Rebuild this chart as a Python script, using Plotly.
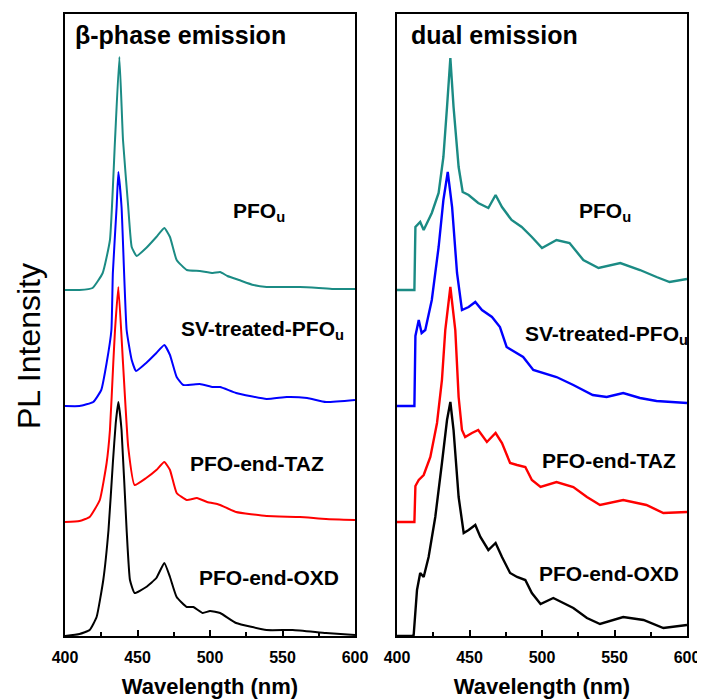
import plotly.graph_objects as go

# ---------------- data (wavelength nm, PL intensity offset units) ----------------
# Left panel: beta-phase emission
beta_pfou_x = [400, 410, 419, 426, 431, 434.5, 437.5, 440, 443.6, 446, 449.4, 456, 463, 468.5, 472.4, 477, 484, 493, 502, 507, 512, 520, 530, 539, 550, 562, 575, 585, 600]
beta_pfou_y = [346, 346, 348, 363, 396, 496, 579, 496, 429, 389, 380, 388, 399, 408, 399, 376, 366, 365, 363, 364, 360, 356, 351, 349, 349, 349, 348, 347, 347]

beta_sv_x = [400, 410, 419.5, 425, 428.7, 432, 433, 435.6, 436.8, 439, 442.5, 446, 449, 456, 463, 468.5, 472.4, 477, 481.6, 493, 502, 507, 518, 539, 553, 567, 580, 600]
beta_sv_y = [230, 230, 234, 246, 273, 306, 363, 429, 464, 429, 306, 276, 265, 273, 283, 291, 281, 259, 251, 252, 249, 249, 243, 237, 239, 238, 234, 236]

beta_taz_x = [400, 410, 417, 424, 428.7, 431, 433.3, 434.5, 436.8, 440, 443.6, 448, 456, 463, 468.5, 472.4, 477, 484, 491, 498, 505, 507, 518, 539, 562, 580, 600]
beta_taz_y = [114, 115, 119, 136, 173, 206, 273, 306, 349, 273, 189, 151, 158, 166, 174, 166, 143, 136, 138, 134, 132, 131, 124, 120, 119, 117, 116]

beta_oxd_x = [400, 410, 417, 421.8, 426.4, 430, 433, 435, 436.8, 439, 442.5, 444.8, 448, 456, 463, 468.5, 472.4, 477, 484, 488.5, 495, 500, 507, 518, 539, 557, 580, 600]
beta_oxd_y = [0, 2, 6, 19, 56, 106, 173, 213, 234, 206, 106, 56, 43, 49, 58, 73, 59, 39, 29, 29, 23, 25, 23, 13, 6, 6, 3, 1]

# Right panel: dual emission
dual_pfou_x = [400, 412, 412.7, 416, 418.4, 424, 428.7, 432, 434.5, 436.8, 439, 442.5, 445.3, 449.4, 456, 463, 468, 472.4, 479, 486, 493, 500, 510, 519, 528.5, 539, 554, 567.6, 579, 588, 600]
dual_pfou_y = [346, 346, 409, 414, 406, 423, 443, 479, 529, 578, 529, 469, 444, 441, 433, 428, 441, 429, 416, 409, 399, 388, 396, 393, 376, 368, 373, 366, 359, 354, 357]

dual_sv_x = [400, 412, 412.7, 415, 417, 419.5, 424, 428.7, 432, 435, 438, 441.4, 444.8, 449.4, 454, 458.6, 465.5, 471, 475.6, 487, 494, 510, 521.6, 535, 544.6, 556, 567.6, 579, 600]
dual_sv_y = [230, 230, 300, 316, 303, 306, 336, 389, 436, 464, 429, 363, 326, 329, 334, 326, 319, 309, 289, 279, 266, 259, 251, 241, 239, 243, 238, 235, 233]

dual_taz_x = [400, 412, 412.7, 415, 418.4, 423, 427.6, 431, 433.3, 436.8, 440.2, 442.5, 444.8, 447, 451.7, 456, 462, 468, 472.4, 478, 482.8, 488.5, 493, 499, 510, 521.6, 531, 540, 556, 572, 583.7, 600]
dual_taz_y = [114, 114, 150, 156, 161, 179, 213, 256, 306, 349, 306, 239, 206, 199, 203, 206, 194, 203, 193, 173, 171, 169, 156, 149, 154, 149, 139, 131, 136, 131, 123, 124]

dual_oxd_x = [400, 410.3, 411.5, 413.8, 416, 418.4, 421.8, 426.4, 431, 434.5, 436.8, 439, 442.5, 446, 449.4, 454, 457.5, 463, 468, 472.4, 478, 482.8, 488.5, 493, 499, 507.8, 521.6, 531, 540, 556, 570, 583.7, 600]
dual_oxd_y = [0, 0, 1, 46, 63, 59, 79, 119, 173, 216, 234, 206, 139, 103, 106, 111, 99, 86, 93, 79, 63, 59, 56, 43, 32, 38, 28, 18, 12, 19, 16, 8, 11]

x_ticks = [400, 450, 500, 550, 600]
sample_names = ["PFO<sub>u</sub>", "SV-treated-PFO<sub>u</sub>", "PFO-end-TAZ", "PFO-end-OXD"]
panel_titles = ["β-phase emission", "dual emission"]

# ---------------- figure ----------------
FONT = "Liberation Sans, Arial, Helvetica, sans-serif"
colors = ["#1b8b84", "#0000ff", "#ff0000", "#000000"]

fig = go.Figure()
left = [(beta_pfou_x, beta_pfou_y), (beta_sv_x, beta_sv_y), (beta_taz_x, beta_taz_y), (beta_oxd_x, beta_oxd_y)]
right = [(dual_pfou_x, dual_pfou_y), (dual_sv_x, dual_sv_y), (dual_taz_x, dual_taz_y), (dual_oxd_x, dual_oxd_y)]

for (xs, ys), c in zip(left, colors):
    fig.add_trace(go.Scatter(x=xs, y=ys, mode="lines", line=dict(color=c, width=2, shape="spline", smoothing=0.4),
                             xaxis="x", yaxis="y", showlegend=False, hoverinfo="skip"))
for (xs, ys), c in zip(right, colors):
    fig.add_trace(go.Scatter(x=xs, y=ys, mode="lines", line=dict(color=c, width=2.4),
                             xaxis="x2", yaxis="y2", showlegend=False, hoverinfo="skip"))

xcommon = dict(range=[400, 600], tickvals=x_ticks, ticks="inside", ticklen=6, tickwidth=1.5,
               tickcolor="black", showline=True, linecolor="black", linewidth=2, mirror=True,
               showgrid=False, zeroline=False, ticklabelstandoff=6, ticklabeloverflow="allow",
               minor=dict(ticks="inside", dtick=25, tick0=400, ticklen=4, tickwidth=1.5, tickcolor="black", showgrid=False),
               tickfont=dict(family=FONT, size=16, color="black", weight="bold"),
               title=dict(text="Wavelength (nm)", font=dict(family=FONT, size=22, color="black", weight="bold"), standoff=18))
ycommon = dict(range=[0, 622], showticklabels=False, ticks="", showline=True, linecolor="black",
               linewidth=2, mirror=True, showgrid=False, zeroline=False)

# page body has an 8px margin; plot area targeted at x 65..687, y 14..636 of the window
fig.update_layout(
    width=697, height=691,
    margin=dict(l=57, r=18, t=6, b=63, autoexpand=False),
    paper_bgcolor="white", plot_bgcolor="white",
    xaxis=dict(domain=[0, 290 / 622], **xcommon),
    xaxis2=dict(domain=[332 / 622, 1], anchor="y2", **xcommon),
    yaxis=dict(domain=[0, 1], anchor="x", **ycommon),
    yaxis2=dict(domain=[0, 1], anchor="x2", **ycommon),
)

label_font = dict(family=FONT, size=21, color="black", weight="bold")
left_lab = [(534, 424), (536, 306), (532.5, 173), (540.5, 59)]
right_lab = [(543.5, 424), (544.5, 301), (546.5, 176), (546, 63)]
for name, (lx, ly) in zip(sample_names, left_lab):
    fig.add_annotation(text=name, x=lx, y=ly, xref="x", yref="y", showarrow=False, font=label_font,
                       xanchor="center", yanchor="middle")
for name, (lx, ly) in zip(sample_names, right_lab):
    fig.add_annotation(text=name, x=lx, y=ly, xref="x2", yref="y2", showarrow=False, font=label_font,
                       xanchor="center", yanchor="middle")

title_font = dict(family=FONT, size=25, color="black", weight="bold")
fig.add_annotation(text=panel_titles[0], x=(73 - 65) / 290, y=(636 - 35) / 622, xref="x domain", yref="y domain",
                   showarrow=False, font=title_font, xanchor="left", yanchor="middle")
fig.add_annotation(text=panel_titles[1], x=(409 - 397) / 290, y=(636 - 35) / 622, xref="x2 domain", yref="y2 domain",
                   showarrow=False, font=title_font, xanchor="left", yanchor="middle")

fig.add_annotation(text="PL Intensity", x=(29 - 65) / 622, y=(636 - 346) / 622, xref="paper", yref="paper",
                   showarrow=False, textangle=-90, font=dict(family=FONT, size=32, color="black"),
                   xanchor="center", yanchor="middle")

fig.write_html("out.html")
